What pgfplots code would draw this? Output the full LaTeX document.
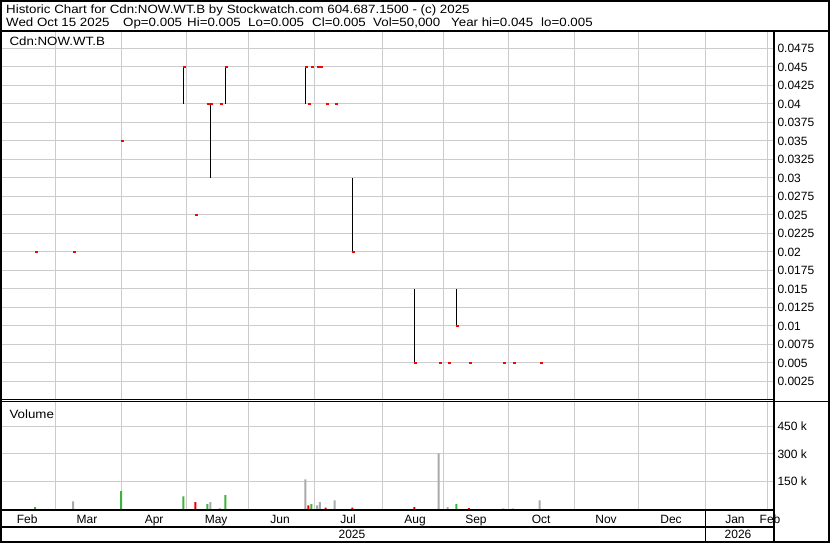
\documentclass[border=0pt]{standalone}
\usepackage{fontspec}
\setmainfont{Liberation Sans}
\usepackage{graphicx}
\usepackage{pgfplots}
\pgfplotsset{compat=1.18}

\definecolor{gridc}{RGB}{204,204,204}
\definecolor{vgreen}{RGB}{60,180,60}
\definecolor{vred}{RGB}{235,0,0}
\definecolor{vgray}{RGB}{170,170,170}

\pgfdeclareplotmark{ctick}{\pgfpathrectangle{\pgfpoint{0pt}{-1pt}}{\pgfpoint{3pt}{2pt}}\pgfusepathqfill}
\newcommand{\hs}[1]{\scalebox{1.11}[1]{#1}}

\begin{document}
\begin{tikzpicture}[x=1pt,y=1pt,font=\fontsize{12}{14}\selectfont]
\path[use as bounding box] (0,0) rectangle (830,543);
\fill[white] (0,0) rectangle (830,543);

% ---------- price panel ----------
\begin{axis}[
  at={(2pt,143pt)}, anchor=south west, scale only axis,
  width=771pt, height=369pt,
  xmin=33.9, xmax=398.3, ymin=0, ymax=0.04986,
  axis line style={draw=none},
  major tick length=0pt,
  xtick={59,90.2,120.9,150.2,181.4,213.5,242.8,273.5,304.7,334.5,366.2,395.9},
  xticklabels={},
  ytick={0.0025,0.005,0.0075,0.01,0.0125,0.015,0.0175,0.02,0.0225,0.025,0.0275,0.03,0.0325,0.035,0.0375,0.04,0.0425,0.045,0.0475},
  yticklabel pos=right,
  scaled y ticks=false,
  /pgf/number format/fixed,
  /pgf/number format/precision=4,
  /pgf/number format/assume math mode=true,
  tick label style={font=\fontsize{12}{14}\selectfont},
  yticklabel style={anchor=west, xshift=1pt},
  grid=major, grid style={gridc, line width=1pt},
  clip=false,
]
\addplot[black, line width=1pt, mark=none, unbounded coords=jump] coordinates {
 (119.6,0.04) (119.6,0.045) (119.6,nan)
 (132.4,0.03) (132.4,0.04) (132.4,nan)
 (139.5,0.04) (139.5,0.045) (139.5,nan)
 (177.3,0.04) (177.3,0.045) (177.3,nan)
 (199.5,0.02) (199.5,0.03) (199.5,nan)
 (228.8,0.005) (228.8,0.015) (228.8,nan)
 (248.6,0.01) (248.6,0.015)
};
\addplot[only marks, mark=ctick, red, mark options={fill=red, draw=none}] coordinates {
 (49.6,0.02) (67.5,0.02) (90.2,0.035) (119.6,0.045) (125.3,0.025)
 (131.0,0.04) (132.4,0.04) (136.7,0.04) (139.5,0.045) (177.3,0.045)
 (178.7,0.04) (180.1,0.045) (182.8,0.045) (184.1,0.045) (186.8,0.04)
 (191.1,0.04) (199.5,0.02) (228.8,0.005) (240.3,0.005) (244.5,0.005)
 (248.6,0.01) (254.5,0.005) (270.9,0.005) (275.2,0.005) (288.0,0.005)
};
\end{axis}

% ---------- volume panel ----------
\begin{axis}[
  at={(2pt,34pt)}, anchor=south west, scale only axis,
  width=771pt, height=107pt,
  xmin=33.9, xmax=398.3, ymin=0, ymax=583600,
  axis line style={draw=none},
  major tick length=0pt, minor tick length=0pt,
  xtick={45.8,74.1,105.8,135.1,165.3,197.5,229.1,257.9,288.7,319.4,350.1,380.3,396.9},
  xticklabels={Feb,Mar,Apr,May,Jun,Jul,Aug,Sep,Oct,Nov,Dec,Jan,Feb},
  minor xtick={59,90.2,120.9,150.2,181.4,213.5,242.8,273.5,304.7,334.5,366.2,395.9},
  xminorgrids, ymajorgrids,
  ytick={150000,300000,450000},
  yticklabels={150 k,300 k,450 k},
  yticklabel pos=right,
  scaled y ticks=false,
  tick label style={font=\fontsize{12}{14}\selectfont},
  yticklabel style={anchor=west, xshift=1pt},
  xticklabel style={anchor=base, yshift=-14.3pt},
  grid style={gridc, line width=1pt},
  minor grid style={gridc, line width=1pt},
  clip=false,
]
\addplot[ybar, bar width=2pt, bar shift=0pt, fill=vgreen, draw=none] coordinates {
 (49.6,10000) (90.2,98000) (119.6,69000) (131.0,26000) (139.5,75000) (180.1,26000) (248.6,26000)
};
\addplot[ybar, bar width=2pt, bar shift=0pt, fill=vred, draw=none] coordinates {
 (125.3,38000) (178.7,20000) (186.8,8000) (199.5,8000) (228.8,10000) (254.5,5000)
};
\addplot[ybar, bar width=2pt, bar shift=0pt, fill=vgray, draw=none] coordinates {
 (67.5,42000) (132.4,38000) (136.7,5000) (177.3,162000) (182.8,20000) (184.1,37000)
 (191.1,47000) (240.3,304000) (244.5,10000) (270.9,4000) (275.2,4000) (288.0,47000)
};
\end{axis}

% ---------- frame ----------
\draw[line width=2pt] (1,1) rectangle (829,542);
\draw[line width=2pt] (0,512) -- (830,512);
\draw[line width=2pt] (773.7,0) -- (773.7,512);
\draw[line width=1pt] (0,143.3) -- (773,143.3);
\draw[line width=1.5pt] (0,141.3) -- (773,141.3);
\draw[line width=1pt] (773,141.7) -- (830,141.7);
\draw[line width=2pt] (0,33) -- (773,33);
\draw[line width=2pt] (0,15.8) -- (773,15.8);
\draw[line width=1.5pt] (705.7,1) -- (705.7,33);

% ---------- texts ----------
\node[anchor=base west, inner sep=0pt] at (6,529.7) {\hs{Historic Chart for Cdn:NOW.WT.B by Stockwatch.com 604.687.1500 - (c) 2025}};
\node[anchor=base west, inner sep=0pt] at (6,516.3) {\hs{Wed Oct 15 2025}};
\node[anchor=base west, inner sep=0pt] at (123,516.3) {\hs{Op=0.005}};
\node[anchor=base west, inner sep=0pt] at (187,516.3) {\hs{Hi=0.005}};
\node[anchor=base west, inner sep=0pt] at (248,516.3) {\hs{Lo=0.005}};
\node[anchor=base west, inner sep=0pt] at (312,516.3) {\hs{Cl=0.005}};
\node[anchor=base west, inner sep=0pt] at (373,516.3) {\hs{Vol=50,000}};
\node[anchor=base west, inner sep=0pt] at (451,516.3) {\hs{Year hi=0.045}};
\node[anchor=base west, inner sep=0pt] at (541,516.3) {\hs{lo=0.005}};
\node[anchor=base west, inner sep=0pt] at (9.3,497.3) {\hs{Cdn:NOW.WT.B}};
\node[anchor=base west, inner sep=0pt] at (9.3,124.7) {\hs{Volume}};
\node[anchor=base, inner sep=0pt] at (352,4.7) {2025};
\node[anchor=base, inner sep=0pt] at (738,4.7) {2026};
\end{tikzpicture}
\end{document}
